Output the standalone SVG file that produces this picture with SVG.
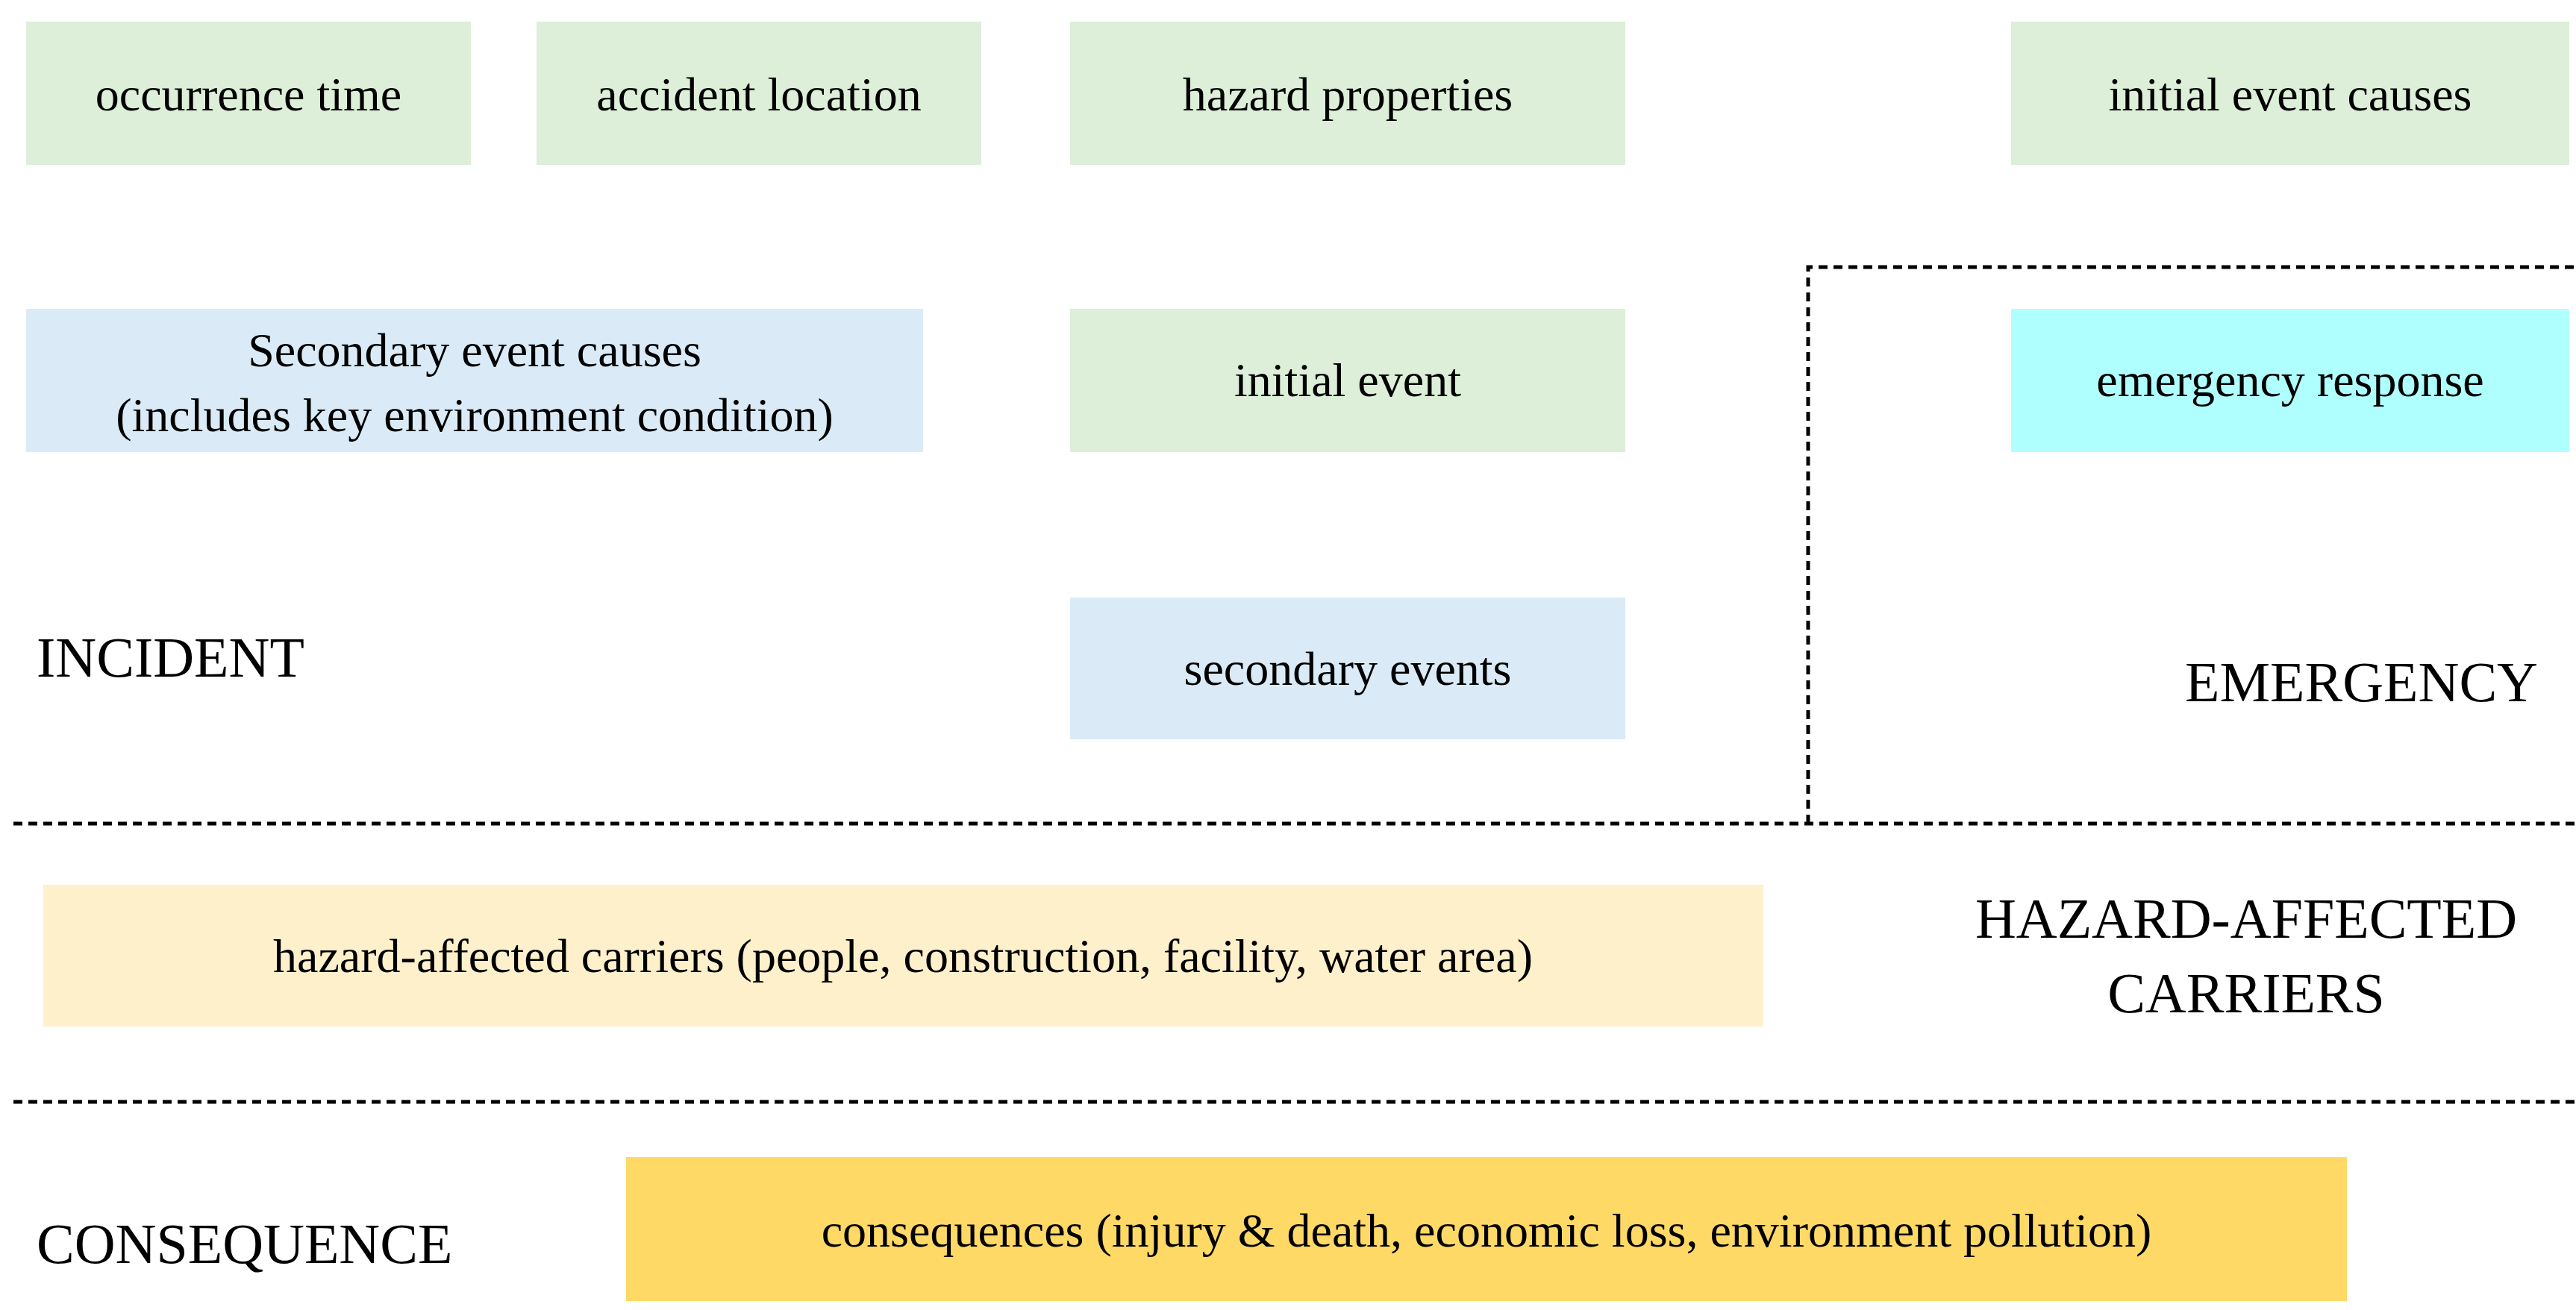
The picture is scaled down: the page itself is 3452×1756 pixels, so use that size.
<svg xmlns="http://www.w3.org/2000/svg" width="3452" height="1756" viewBox="0 0 3452 1756">
<style>
text{font-family:"Liberation Serif","Times New Roman",serif;fill:#000}
.t{font-size:64px;text-anchor:middle}
.l{font-size:76px}
.g{fill:#ddeed9}.b{fill:#daebf7}.c{fill:#b0ffff}.y{fill:#fff0cc}.o{fill:#ffd966}
.d{stroke:#000;stroke-width:5;stroke-dasharray:12 8;fill:none}
</style>
<rect width="3452" height="1756" fill="#fff"/>
<g id="connectors">
<path class="d" d="M2423,1104 V358 H3452"/>
<path class="d" d="M18,1104 H3452"/>
<path class="d" d="M18,1477 H3452"/>
</g>
<g id="n1"><rect class="g" x="35" y="29" width="596" height="192"/><text class="t" x="333" y="148">occurrence time</text></g>
<g id="n2"><rect class="g" x="719" y="29" width="596" height="192"/><text class="t" x="1017" y="148">accident location</text></g>
<g id="n3"><rect class="g" x="1434" y="29" width="744" height="192"/><text class="t" x="1806" y="148">hazard properties</text></g>
<g id="n4"><rect class="g" x="2695" y="29" width="748" height="192"/><text class="t" x="3069" y="148">initial event causes</text></g>
<g id="n5"><rect class="b" x="35" y="414" width="1202" height="192"/><text class="t" x="636" y="491">Secondary event causes</text><text class="t" x="636" y="578">(includes key environment condition)</text></g>
<g id="n6"><rect class="g" x="1434" y="414" width="744" height="192"/><text class="t" x="1806" y="531">initial event</text></g>
<g id="n7"><rect class="c" x="2695" y="414" width="748" height="192"/><text class="t" x="3069" y="531">emergency response</text></g>
<g id="n8"><rect class="b" x="1434" y="801" width="744" height="190"/><text class="t" x="1806" y="918">secondary events</text></g>
<g id="n9"><rect class="y" x="58" y="1186" width="2305" height="190"/><text class="t" x="1210" y="1303">hazard-affected carriers (people, construction, facility, water area)</text></g>
<g id="n10"><rect class="o" x="839" y="1551" width="2306" height="193"/><text class="t" x="1992" y="1671">consequences (injury &amp; death, economic loss, environment pollution)</text></g>
<g id="labels">
<text class="l" x="49" y="907">INCIDENT</text>
<text class="l" x="3401" y="940" text-anchor="end">EMERGENCY</text>
<text class="l" x="3010" y="1257" text-anchor="middle">HAZARD-AFFECTED</text>
<text class="l" x="3010" y="1357" text-anchor="middle">CARRIERS</text>
<text class="l" x="49" y="1693">CONSEQUENCE</text>
</g>
</svg>
